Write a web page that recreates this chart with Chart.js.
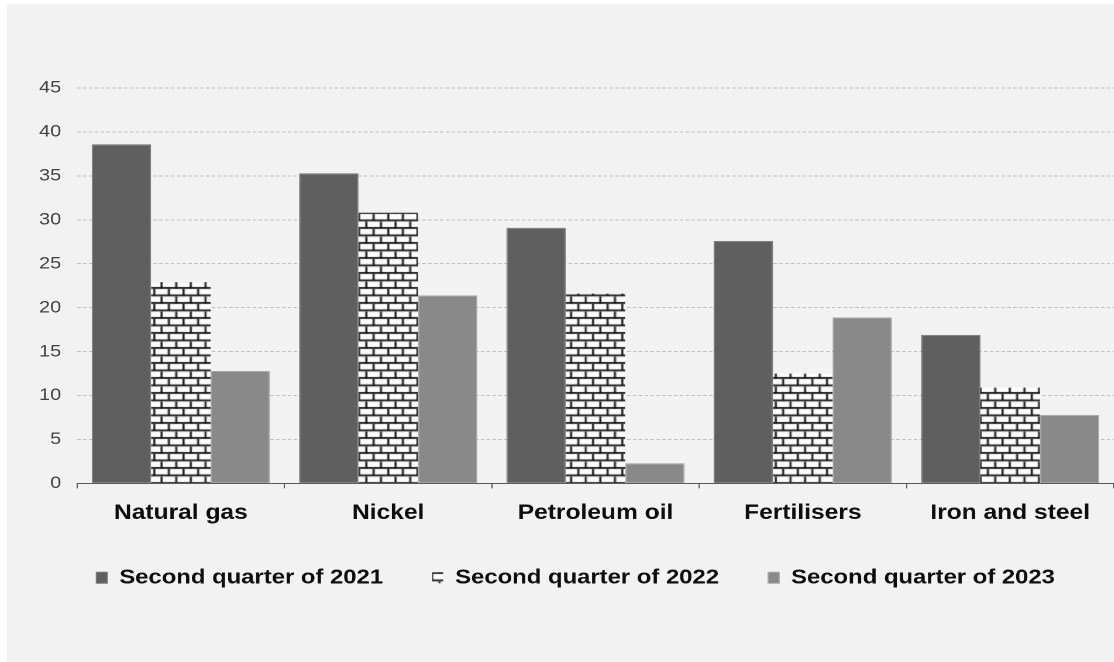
<!DOCTYPE html>
<html>
<head>
<meta charset="utf-8">
<script src="https://cdn.jsdelivr.net/npm/chart.js@4.4.1/dist/chart.umd.min.js"></script>
<style>
  html, body { margin: 0; padding: 0; background: #fff; }
  #fundo {
    position: absolute; left: 7px; top: 4px;
    width: 1107px; height: 658px;
    background: #f2f2f2; overflow: hidden;
  }
  /* o gráfico é desenhado mais estreito e esticado na horizontal */
  #esticado {
    position: absolute; left: 0; top: 0;
    width: 946px; height: 658px;
    transform: scaleX(1.17); transform-origin: 0 0;
  }
</style>
</head>
<body>
<div id="fundo"><div id="esticado"><canvas id="grafico"></canvas></div></div>
<script>
const categorias = ['Natural gas', 'Nickel', 'Petroleum oil', 'Fertilisers', 'Iron and steel']
const rotulosSeries = ['Second quarter of 2021', 'Second quarter of 2022', 'Second quarter of 2023']
const valores2021 = [38.6, 35.3, 29.1, 27.6, 16.9]
const valores2022 = [22.9, 30.8, 21.6, 12.5, 10.9]
const valores2023 = [12.8, 21.4, 2.3, 18.9, 7.8]
const eixoY = { min: 0, max: 45, passo: 5 }

const fonte = 'Arial, "Liberation Sans", sans-serif'

// padrão de tijolos (fundo branco, argamassa preta)
function criarPadraoTijolo() {
  const c = document.createElement('canvas')
  c.width = 25
  c.height = 15
  const ctx = c.getContext('2d')
  ctx.fillStyle = '#ffffff'
  ctx.fillRect(0, 0, 25, 15)
  ctx.fillStyle = '#111111'
  // linhas horizontais
  ctx.fillRect(0, 5.5, 25, 1.8)
  ctx.fillRect(0, 13, 25, 1.8)
  // juntas verticais, deslocadas meia peça por fiada
  ctx.fillRect(0, 0, 1.7, 7)
  ctx.fillRect(12.5, 0, 1.7, 7)
  ctx.fillRect(6.25, 7.5, 1.7, 7)
  ctx.fillRect(18.75, 7.5, 1.7, 7)
  return c.getContext('2d').createPattern(c, 'repeat')
}

const padraoTijolo = criarPadraoTijolo()

new Chart(document.getElementById('grafico'), {
  type: 'bar',
  data: {
    labels: categorias,
    datasets: [
      {
        label: rotulosSeries[0],
        data: valores2021,
        backgroundColor: '#5f5f5f',
        borderColor: '#7b7b7b',
        borderWidth: 1
      },
      {
        label: rotulosSeries[1],
        data: valores2022,
        backgroundColor: padraoTijolo,
        borderWidth: 0
      },
      {
        label: rotulosSeries[2],
        data: valores2023,
        backgroundColor: '#898989',
        borderColor: '#a8a8a8',
        borderWidth: 1
      }
    ]
  },
  options: {
    responsive: true,
    maintainAspectRatio: false,
    devicePixelRatio: 2,
    animation: false,
    categoryPercentage: 0.86,
    barPercentage: 1,
    layout: { padding: { top: 84, left: 26, right: 0, bottom: 64 } },
    scales: {
      x: {
        // aproxima a legenda dos rótulos das categorias
        afterFit: escala => { escala.height -= 12 },
        grid: {
          display: true,
          drawOnChartArea: false,
          drawTicks: true,
          tickLength: 5,
          color: '#595959'
        },
        border: { display: true, color: '#595959', width: 1 },
        ticks: {
          color: '#0d0d0d',
          padding: 12,
          font: { family: fonte, size: 21, weight: 'bold' }
        }
      },
      y: {
        min: eixoY.min,
        max: eixoY.max,
        afterFit: escala => { escala.width = 34 },
        grid: {
          color: '#bfbfbf',
          drawTicks: false
        },
        border: { display: false, dash: [3, 2] },
        ticks: {
          stepSize: eixoY.passo,
          color: '#404040',
          padding: 13.7,
          font: { family: fonte, size: 17 }
        }
      }
    },
    plugins: {
      legend: {
        position: 'bottom',
        labels: {
          boxWidth: 9.4,
          boxHeight: 11,
          padding: 42,
          color: '#0d0d0d',
          font: { family: fonte, size: 20.4, weight: 'bold' }
        }
      },
      tooltip: { enabled: false }
    }
  }
})
</script>
</body>
</html>
